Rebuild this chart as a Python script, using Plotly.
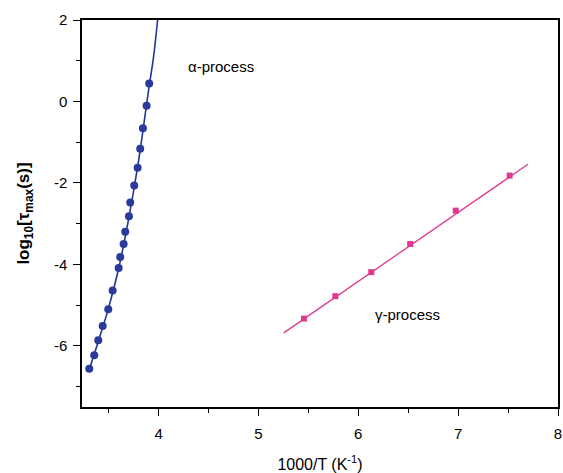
import plotly.graph_objects as go

# alpha-process data
alpha_x = [3.306, 3.356, 3.396, 3.44, 3.496, 3.54, 3.60, 3.616, 3.65, 3.666, 3.703, 3.716, 3.756, 3.79, 3.816, 3.843, 3.88, 3.906]
alpha_y = [-6.56, -6.23, -5.86, -5.51, -5.10, -4.64, -4.09, -3.82, -3.50, -3.20, -2.82, -2.48, -2.06, -1.63, -1.16, -0.655, -0.105, 0.44]
# alpha fit curve
alpha_fit_x = [3.30, 3.40, 3.50, 3.60, 3.70, 3.80, 3.90, 3.95, 3.99]
alpha_fit_y = [-6.62, -5.86, -5.06, -4.10, -2.88, -1.45, 0.28, 1.10, 2.0]

# gamma-process data
gamma_x = [5.456, 5.77, 6.13, 6.52, 6.976, 7.516]
gamma_y = [-5.33, -4.78, -4.19, -3.50, -2.68, -1.82]
gamma_fit_x = [5.253, 7.70]
gamma_fit_y = [-5.68, -1.54]

x_ticks = [4, 5, 6, 7, 8]
y_ticks = [-6, -4, -2, 0, 2]
y_ticklabels = ["-6", "-4", "-2", "0", "2"]

blue = "#2a3a9c"
pink = "#e0388f"
FONT = "Liberation Sans, Arial"

fig = go.Figure()
fig.add_trace(go.Scatter(x=alpha_fit_x, y=alpha_fit_y, mode="lines",
                         line=dict(color="#25339a", width=1.6, shape="spline"),
                         showlegend=False, hoverinfo="skip"))
fig.add_trace(go.Scatter(x=alpha_x, y=alpha_y, mode="markers",
                         marker=dict(color=blue, size=8, symbol="circle"),
                         showlegend=False))
fig.add_trace(go.Scatter(x=gamma_fit_x, y=gamma_fit_y, mode="lines",
                         line=dict(color=pink, width=1.3),
                         showlegend=False, hoverinfo="skip"))
fig.add_trace(go.Scatter(x=gamma_x, y=gamma_y, mode="markers",
                         marker=dict(color=pink, size=6, symbol="square"),
                         showlegend=False))

fig.add_annotation(x=4.62, y=0.86, text="α-process", showarrow=False,
                   font=dict(size=15, color="black", family=FONT))
fig.add_annotation(x=6.49, y=-5.22, text="γ-process", showarrow=False,
                   font=dict(size=15, color="black", family=FONT))

axis_common = dict(showgrid=False, zeroline=False, showline=True, linecolor="black",
                   linewidth=1.5, mirror=True, ticks="outside", tickcolor="black",
                   ticklen=7, tickwidth=1.2, automargin=False,
                   tickfont=dict(size=15, color="black", family=FONT))

fig.update_layout(
    width=563, height=473,
    margin=dict(l=82, r=5, t=20, b=66),
    plot_bgcolor="white", paper_bgcolor="white",
    xaxis=dict(range=[3.233, 8.0], tickvals=x_ticks, ticklabelstandoff=5,
               minor=dict(ticks="outside", ticklen=4, tickcolor="black", dtick=0.5, tick0=0),
               title=dict(text="1000/T (K<sup>-1</sup>)", standoff=18,
                          font=dict(size=16, color="black", family=FONT)),
               **axis_common),
    yaxis=dict(range=[-7.5, 2.0], tickvals=y_ticks, ticktext=y_ticklabels, ticklabelstandoff=3,
               minor=dict(ticks="outside", ticklen=4, tickcolor="black", dtick=1, tick0=0),
               title=dict(text="<b>log<sub>10</sub>[τ<sub>max</sub>(s)]</b>", standoff=20,
                          font=dict(size=17, color="black", family=FONT)),
               **axis_common),
)

# remove the browser's default 8px body margin so the figure fills the window exactly
fig.write_html("out.html", config={"displayModeBar": False},
               post_script="document.body.style.margin='0';document.body.style.overflow='hidden';")
